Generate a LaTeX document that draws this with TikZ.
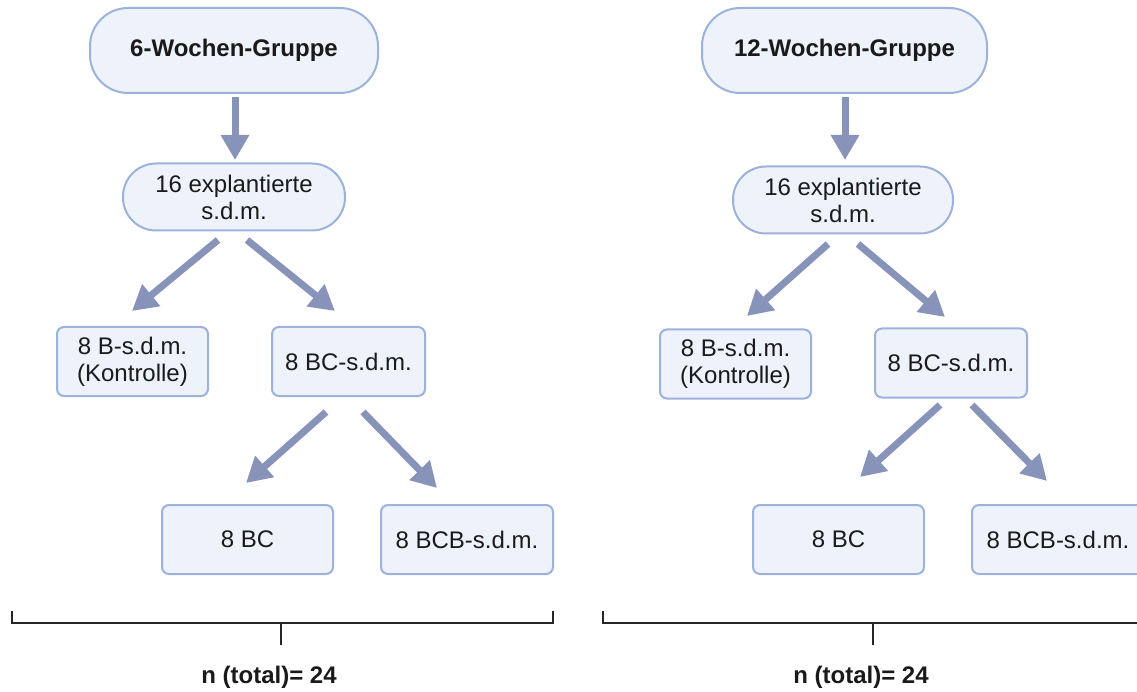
\documentclass[tikz,border=0pt]{standalone}
\usepackage{fontspec}
\setmainfont{Liberation Sans}
\usetikzlibrary{arrows.meta}
\definecolor{boxfill}{HTML}{EDF2FB}
\definecolor{boxline}{HTML}{9DB2DB}
\definecolor{arrowc}{HTML}{8793B8}
\definecolor{txt}{HTML}{1A1A1A}
\begin{document}
\begin{tikzpicture}[x=1pt,y=-1pt,
  every node/.style={text=txt,font=\fontsize{24}{27}\selectfont,align=center,inner sep=0pt},
  pill/.style={draw=boxline,fill=boxfill,line width=2pt,rounded corners=38pt},
  rbox/.style={draw=boxline,fill=boxfill,line width=2pt,rounded corners=7pt},
  flow/.style={draw=arrowc,line width=7pt,-{Triangle[length=25pt,width=27pt]}},
  brace/.style={draw=black!85,line width=2pt},
  titletext/.style={font=\fontsize{24}{27}\selectfont\bfseries}
]
\clip (0,0) rectangle (1137,692);
\useasboundingbox (0,0) rectangle (1137,692);

% ---------- left group ----------
\node[pill,minimum width=288pt,minimum height=85pt,titletext] (Lt) at (234,50.5) {6-Wochen-Gruppe};
\node[pill,rounded corners=33pt,minimum width=222pt,minimum height=67pt] (Ls) at (234,197) {16 explantierte\\s.d.m.};
\node[rbox,minimum width=151pt,minimum height=69pt] (Lb) at (132.5,361.5) {8 B-s.d.m.\\(Kontrolle)};
\node[rbox,minimum width=153pt,minimum height=69pt] (Lbc) at (348.5,361.5) {8 BC-s.d.m.};
\node[rbox,minimum width=171pt,minimum height=69pt] (Lc) at (247.5,539.5) {8 BC};
\node[rbox,minimum width=172pt,minimum height=69pt] (Lcb) at (467,539.5) {8 BCB-s.d.m.};

\coordinate (La1) at (235,97); \coordinate (La2) at (235,160);
\draw[flow] (La1) -- (La2);
\coordinate (La3) at (218,240); \coordinate (La4) at (132,311);
\draw[flow] (La3) -- (La4);
\coordinate (La5) at (247,240); \coordinate (La6) at (335,311);
\draw[flow] (La5) -- (La6);
\coordinate (La7) at (326,412); \coordinate (La8) at (246,483);
\draw[flow] (La7) -- (La8);
\coordinate (La9) at (363,412); \coordinate (La10) at (437,488);
\draw[flow] (La9) -- (La10);

\coordinate (Lbr1) at (12,611); \coordinate (Lbr2) at (12,623);
\coordinate (Lbr3) at (553,623); \coordinate (Lbr4) at (553,611);
\coordinate (Lbm1) at (281,623); \coordinate (Lbm2) at (281,645);
\draw[brace] (Lbr1) -- (Lbr2) -- (Lbr3) -- (Lbr4);
\draw[brace] (Lbm1) -- (Lbm2);
\node[titletext] (Ln) at (269,677) {n (total)= 24};

% ---------- right group ----------
\node[pill,minimum width=285pt,minimum height=85pt,titletext] (Rt) at (844.5,50.5) {12-Wochen-Gruppe};
\node[pill,rounded corners=33pt,minimum width=220pt,minimum height=67pt] (Rs) at (843,200) {16 explantierte\\s.d.m.};
\node[rbox,minimum width=151pt,minimum height=69pt] (Rb) at (735.5,364) {8 B-s.d.m.\\(Kontrolle)};
\node[rbox,minimum width=152pt,minimum height=69pt] (Rbc) at (951,363) {8 BC-s.d.m.};
\node[rbox,minimum width=171pt,minimum height=69pt] (Rc) at (838.5,539.5) {8 BC};
\node[rbox,minimum width=172pt,minimum height=69pt] (Rcb) at (1058,539.5) {8 BCB-s.d.m.};

\coordinate (Ra1) at (845,97); \coordinate (Ra2) at (845,160);
\draw[flow] (Ra1) -- (Ra2);
\coordinate (Ra3) at (828,244); \coordinate (Ra4) at (747,316);
\draw[flow] (Ra3) -- (Ra4);
\coordinate (Ra5) at (858,244); \coordinate (Ra6) at (945,317);
\draw[flow] (Ra5) -- (Ra6);
\coordinate (Ra7) at (940,405); \coordinate (Ra8) at (860,477);
\draw[flow] (Ra7) -- (Ra8);
\coordinate (Ra9) at (972,405); \coordinate (Ra10) at (1047,481);
\draw[flow] (Ra9) -- (Ra10);

\coordinate (Rbr1) at (603,611); \coordinate (Rbr2) at (603,623);
\coordinate (Rbr3) at (1145,623);
\coordinate (Rbm1) at (873,623); \coordinate (Rbm2) at (873,645);
\draw[brace] (Rbr1) -- (Rbr2) -- (Rbr3);
\draw[brace] (Rbm1) -- (Rbm2);
\node[titletext] (Rn) at (861,677) {n (total)= 24};
\end{tikzpicture}
\end{document}
